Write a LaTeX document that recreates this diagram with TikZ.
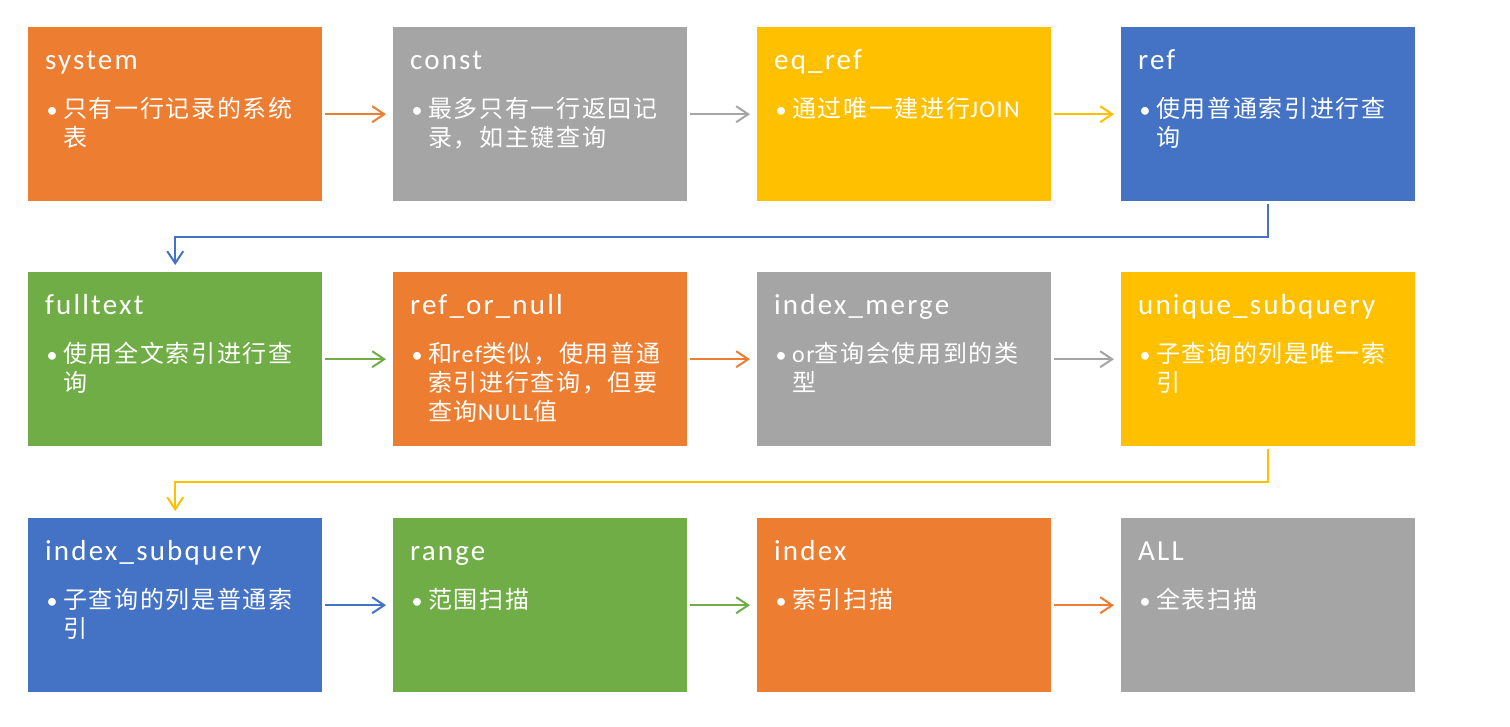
\documentclass[tikz,border=0pt]{standalone}
\usepackage{fontspec}
\setmainfont{Carlito}
\newfontfamily\titlefont{Carlito}[LetterSpace=7.5]
\newfontfamily\cjk{Noto Sans CJK SC}[LetterSpace=7]
\newfontfamily\latinb{Carlito}[LetterSpace=6]
\usetikzlibrary{arrows.meta,calc}
\definecolor{cOrange}{HTML}{ED7D31}
\definecolor{cGray}{HTML}{A5A5A5}
\definecolor{cYellow}{HTML}{FFC000}
\definecolor{cBlue}{HTML}{4472C4}
\definecolor{cGreen}{HTML}{70AD47}
\tikzset{
  card/.style={fill=#1, draw=none, minimum width=294pt, minimum height=174pt, inner sep=0pt, anchor=north west},
  ttl/.style={anchor=base west, inner sep=0pt, text=white, font=\titlefont\fontsize{29}{34}\selectfont},
  bl/.style={anchor=base west, inner sep=0pt, text=white, font=\cjk\fontsize{24}{29}\selectfont},
  bul/.style={anchor=base, inner sep=0pt, text=white, font=\fontsize{22}{29}\selectfont},
  flow/.style={draw=#1, line width=2pt, -{Straight Barb[length=12pt,width=16pt,line width=2pt]}, shorten <=3pt, shorten >=7pt},
}
\newcommand\mkcard[6]{%
  \node[card=#4] (#1) at (#2,-#3) {};
  \node[ttl] (#1t) at ([shift={(17,-42)}]#1.north west) {#5};
  \node[bul] (#1d) at ([shift={(24,-90)}]#1.north west) {•};
  \foreach \ln [count=\i] in {#6} {
    \node[bl] (#1l\i) at ([shift={(35,-61-29*\i)}]#1.north west) {\ln};
  }
}
\begin{document}
\begin{tikzpicture}[x=1pt,y=1pt]
\useasboundingbox (0,0) rectangle (1510,-726);
\fill[white] (0,0) rectangle (1510,-726);
% row 1
\mkcard{b1}{28}{27}{cOrange}{system}{只有一行记录的系统,表}
\mkcard{b2}{393}{27}{cGray}{const}{最多只有一行返回记,录，如主键查询}
\mkcard{b3}{757}{27}{cYellow}{eq\_ref}{通过唯一建进行{\latinb JOIN}}
\mkcard{b4}{1121}{27}{cBlue}{ref}{使用普通索引进行查,询}
% row 2
\mkcard{b5}{28}{272}{cGreen}{fulltext}{使用全文索引进行查,询}
\mkcard{b6}{393}{272}{cOrange}{ref\_or\_null}{和{\latinb ref}类似，使用普通,索引进行查询，但要,查询{\latinb NULL}值}
\mkcard{b7}{757}{272}{cGray}{index\_merge}{{\latinb or}查询会使用到的类,型}
\mkcard{b8}{1121}{272}{cYellow}{unique\_subquery}{子查询的列是唯一索,引}
% row 3
\mkcard{b9}{28}{518}{cBlue}{index\_subquery}{子查询的列是普通索,引}
\mkcard{b10}{393}{518}{cGreen}{range}{范围扫描}
\mkcard{b11}{757}{518}{cOrange}{index}{索引扫描}
\mkcard{b12}{1121}{518}{cGray}{ALL}{全表扫描}
% arrows
\draw[flow=cOrange] (b1.east) -- (b2.west);
\draw[flow=cGray] (b2.east) -- (b3.west);
\draw[flow=cYellow] (b3.east) -- (b4.west);
\draw[flow=cBlue] (b4.south) -- ++(0,-36) -| (b5.north);
\draw[flow=cGreen] (b5.east) -- (b6.west);
\draw[flow=cOrange] (b6.east) -- (b7.west);
\draw[flow=cGray] (b7.east) -- (b8.west);
\draw[flow=cYellow] (b8.south) -- ++(0,-36) -| (b9.north);
\draw[flow=cBlue] (b9.east) -- (b10.west);
\draw[flow=cGreen] (b10.east) -- (b11.west);
\draw[flow=cOrange] (b11.east) -- (b12.west);
\end{tikzpicture}
\end{document}
